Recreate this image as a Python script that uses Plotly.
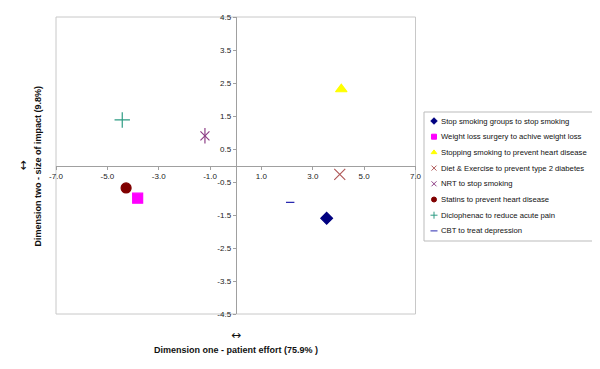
import plotly.graph_objects as go

# Data
names = [
    "Stop smoking groups to stop smoking",
    "Weight loss surgery to achive weight loss",
    "Stopping smoking to prevent heart disease",
    "Diet & Exercise to prevent type 2 diabetes",
    "NRT to stop smoking",
    "Statins to prevent heart disease",
    "Diclophenac to reduce acute pain",
    "CBT to treat depression",
]
dim_one = [3.54, -3.82, 4.11, 4.05, -1.20, -4.27, -4.42, 2.12]
dim_two = [-1.60, -0.99, 2.31, -0.27, 0.90, -0.68, 1.38, -1.12]

symbols = ["diamond", "square", "triangle-up", "x-thin-open", "x-thin-open",
           "circle", "cross-thin-open", "line-ew-open"]
# extra stroke drawn over a symbol (Excel's six-spoke star = x plus vertical bar)
overlay = [None, None, None, None, "line-ns-open", None, None, None]
colors = ["#000080", "#FF00FF", "#FFFF00", "#B05A5A", "#8E3F86",
          "#800000", "#2E9C84", "#2A2AB0"]
sizes = [9, 10, 10, 11, 9, 10, 11, 6]

x_ticks = [-7, -5, -3, -1, 1, 3, 5, 7]
y_ticks = [4.5, 3.5, 2.5, 1.5, 0.5, -0.5, -1.5, -2.5, -3.5, -4.5]

# ---- layout geometry (pixels) ----
W, H = 592, 361
ML, MT, MB = 48, 9, 55
PLOT_W = 359.5
AREA_W = W - ML
AREA_H = H - MT - MB
main_dom = [0, PLOT_W / AREA_W]
leg_x0, leg_x1 = 368, 542          # legend box, px from plot-area left
leg_top, leg_bot = 95, 224         # legend box, px from plot-area top
leg_dom_x = [leg_x0 / AREA_W, leg_x1 / AREA_W]
leg_dom_y = [1 - leg_bot / AREA_H, 1 - leg_top / AREA_H]
LEG_W, LEG_H = leg_x1 - leg_x0, leg_bot - leg_top
row_first, row_step = 9, 15.7

fig = go.Figure()
for n, xv, yv, s, o, c, sz in zip(names, dim_one, dim_two, symbols, overlay, colors, sizes):
    fig.add_trace(go.Scatter(
        x=[xv], y=[yv], mode="markers", name=n, showlegend=False,
        marker=dict(symbol=s, color=c, size=sz, line=dict(color=c, width=1.2)),
    ))
    if o:
        fig.add_trace(go.Scatter(
            x=[xv], y=[yv], mode="markers", name=n, showlegend=False, hoverinfo="skip",
            marker=dict(symbol=o, color=c, size=sz + 2, line=dict(color=c, width=1.2)),
        ))

# Legend drawn on its own small axes (compact Excel-like layout)
rows = [row_first + i * row_step for i in range(len(names))]
fig.add_trace(go.Scatter(
    x=[10] * len(names), y=rows, xaxis="x2", yaxis="y2", mode="markers",
    showlegend=False, hoverinfo="skip",
    marker=dict(symbol=symbols, color=colors, size=5, line=dict(color=colors, width=1)),
))
for n, r in zip(names, rows):
    fig.add_annotation(text=n, xref="x2", yref="y2", x=15, y=r, xanchor="left",
                       yanchor="middle", showarrow=False,
                       font=dict(family="Arial, Liberation Sans, sans-serif",
                                 size=7.7, color="#111111"))
fig.add_shape(type="rect", xref="x2 domain", yref="y2 domain", x0=0, y0=0, x1=1, y1=1,
              line=dict(color="#BBBBBB", width=1))

axis_font = dict(family="Arial, Liberation Sans, sans-serif", size=8, color="#222222")

fig.update_layout(
    width=W, height=H,
    margin=dict(l=ML, r=0, t=MT, b=MB, autoexpand=False),
    paper_bgcolor="white", plot_bgcolor="white",
    showlegend=False,
    xaxis=dict(
        domain=main_dom, range=[-7, 7], anchor="free", position=0.5,
        showgrid=False, zeroline=False, showline=True, linecolor="#A0A0A0", linewidth=1,
        tickvals=x_ticks, ticktext=[f"{v:.1f}" for v in x_ticks],
        ticks="outside", ticklen=3, tickcolor="#A0A0A0",
        tickfont=axis_font,
    ),
    yaxis=dict(
        range=[-4.5, 4.5], anchor="free", position=main_dom[1] / 2,
        showgrid=False, zeroline=False, showline=True, linecolor="#A0A0A0", linewidth=1,
        tickvals=y_ticks, ticktext=[f"{v:.1f}" for v in y_ticks],
        ticks="outside", ticklen=3, tickcolor="#A0A0A0",
        tickfont=axis_font,
    ),
    xaxis2=dict(domain=leg_dom_x, range=[0, LEG_W], anchor="y2", visible=False,
                fixedrange=True),
    yaxis2=dict(domain=leg_dom_y, range=[LEG_H, 0], anchor="x2", visible=False,
                fixedrange=True),
    font=dict(family="Arial, Liberation Sans, sans-serif"),
)

# Plot frame
fig.add_shape(type="rect", xref="x domain", yref="y domain", x0=0, y0=0, x1=1, y1=1,
              line=dict(color="#C8C8C8", width=1), layer="below")

title_font = dict(family="Arial, Liberation Sans, sans-serif", size=9, color="#111111")
arrow_font = dict(family="DejaVu Sans", size=12, color="#111111")
fig.add_annotation(text="↔", xref="x", yref="paper", x=0, y=-0.071,
                   xanchor="center", yanchor="middle", showarrow=False, font=arrow_font)
fig.add_annotation(text="<b>Dimension one - patient effort (75.9% )</b>",
                   xref="x", yref="paper", x=0, y=-0.121,
                   xanchor="center", yanchor="middle", showarrow=False, font=title_font)
fig.add_annotation(text="↔", xref="paper", yref="y", x=-0.0625, y=0,
                   xanchor="center", yanchor="middle", textangle=-90,
                   showarrow=False, font=arrow_font)
fig.add_annotation(text="<b>Dimension two - size of impact (9.8%)</b>",
                   xref="paper", yref="y", x=-0.0331, y=0, textangle=-90,
                   xanchor="center", yanchor="middle", showarrow=False, font=title_font)

fig.write_html("out.html")
